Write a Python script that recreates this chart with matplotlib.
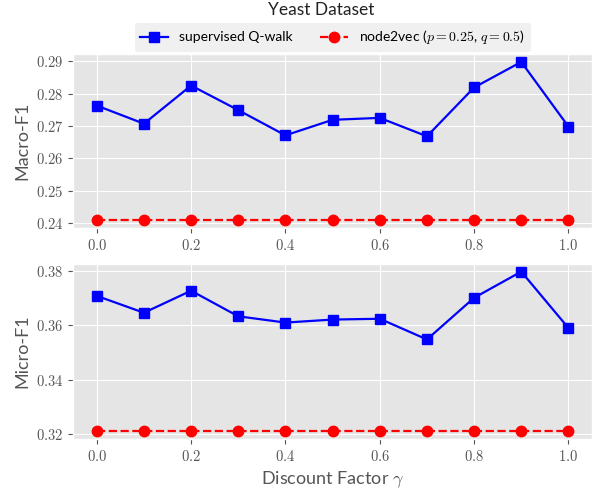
import numpy as np
import matplotlib
matplotlib.use("Agg")
import matplotlib.pyplot as plt
from matplotlib.ticker import FuncFormatter

# discount factor values
gamma = [0.0, 0.1, 0.2, 0.3, 0.4, 0.5, 0.6, 0.7, 0.8, 0.9, 1.0]

# macro / micro F1
macro_qwalk = [0.2763, 0.2707, 0.2825, 0.2749, 0.2671, 0.2719, 0.2725, 0.2668, 0.2819, 0.2898, 0.2698]
macro_n2v = [0.2408] * 11
micro_qwalk = [0.3707, 0.3645, 0.3726, 0.3632, 0.3609, 0.3620, 0.3623, 0.3547, 0.3700, 0.3796, 0.3589]
micro_n2v = [0.3211] * 11

plt.style.use("ggplot")
plt.rcParams["mathtext.fontset"] = "cm"
plt.rcParams["font.family"] = ["Lato", "DejaVu Sans"]

fig = plt.figure(figsize=(5.95, 4.91), dpi=100)
ax1 = fig.add_axes([0.123, 0.535, 0.872, 0.355])
ax2 = fig.add_axes([0.123, 0.106, 0.872, 0.357])

fmt = FuncFormatter(lambda v, p: r"$%.2f$" % v)
fmt1 = FuncFormatter(lambda v, p: r"$%.1f$" % v)

for ax, q, n, lab in [(ax1, macro_qwalk, macro_n2v, "Macro-F1"),
                      (ax2, micro_qwalk, micro_n2v, "Micro-F1")]:
    ax.plot(gamma, q, color="blue", marker="s", markersize=7.5, linewidth=1.6,
            label="supervised Q-walk")
    ax.plot(gamma, n, color="red", marker="o", markersize=7.5, linewidth=1.6,
            linestyle="--", label=r"node2vec ($p=0.25$, $q=0.5$)")
    ax.set_ylabel(lab, fontsize=13, color="#555555")
    ax.yaxis.set_major_formatter(fmt)
    ax.xaxis.set_major_formatter(fmt1)
    ax.set_xticks([0.0, 0.2, 0.4, 0.6, 0.8, 1.0])
    ax.tick_params(labelsize=10.5, colors="#555555")

ax1.set_yticks([0.24, 0.25, 0.26, 0.27, 0.28, 0.29])
ax2.set_yticks([0.32, 0.34, 0.36, 0.38])
ax2.set_xlabel(r"Discount Factor $\gamma$", fontsize=13, color="#555555")

ax1.legend(loc="lower center", bbox_to_anchor=(0.5, 1.0), ncol=2, fontsize=10,
           facecolor="#F0F0F0", edgecolor="none", framealpha=1,
           borderaxespad=0.15, columnspacing=2.0)
fig.suptitle("Yeast Dataset", x=0.54, y=0.995, fontsize=12.5, color="#222222")

fig.savefig("out.png", dpi=100)
